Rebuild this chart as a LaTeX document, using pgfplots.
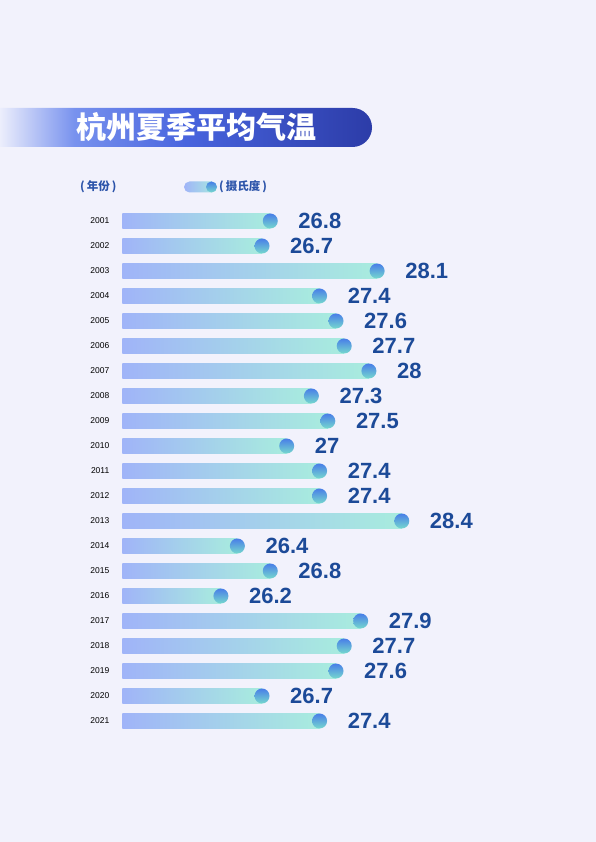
\documentclass[border=0pt]{standalone}
\usepackage{pgfplots}
\pgfplotsset{compat=1.18}
\usepackage{pgfplotstable}
\usepackage{fontspec}
\setmainfont{Liberation Sans}
\newfontfamily\cjk{Noto Sans CJK SC}

\definecolor{bg}{RGB}{242,242,252}
\definecolor{barL}{RGB}{160,180,248}
\definecolor{barR}{RGB}{168,236,222}
\definecolor{dotT}{RGB}{72,126,232}
\definecolor{dotB}{RGB}{118,216,206}
\definecolor{valc}{RGB}{28,74,152}
\definecolor{legc}{RGB}{44,84,170}
\definecolor{banA}{RGB}{236,238,252}
\definecolor{banB}{RGB}{120,146,238}
\definecolor{banC}{RGB}{72,100,222}
\definecolor{banD}{RGB}{44,60,168}

% stops sit in the middle 50bp, as tikz scales that part onto the path
\pgfdeclarehorizontalshading{banner}{100bp}{color(0bp)=(banA); color(25bp)=(banA);
  color(35bp)=(banB); color(50bp)=(banC); color(75bp)=(banD); color(100bp)=(banD)}

% Hangzhou summer mean temperature, degrees C (row 1 = 2001)
\pgfplotstableread{
row t
1 26.8
2 26.7
3 28.1
4 27.4
5 27.6
6 27.7
7 28
8 27.3
9 27.5
10 27
11 27.4
12 27.4
13 28.4
14 26.4
15 26.8
16 26.2
17 27.9
18 27.7
19 27.6
20 26.7
21 27.4
}\temps

\begin{document}
\begin{tikzpicture}
  \fill[bg] (0bp,0bp) rectangle (596bp,842bp);

  % title banner
  \shade[shading=banner] (0bp,695bp) -- (352.5bp,695bp) arc (-90:90:19.5bp) -- (0bp,734bp) -- cycle;
  \node[text=white, font=\cjk\bfseries\fontsize{30bp}{33bp}\selectfont] at (196bp,714.5bp) {杭州夏季平均气温};

  % legend
  \node[anchor=west, inner sep=0pt, text=legc, font=\cjk\bfseries\fontsize{11.5bp}{13bp}\selectfont]
    at (80bp,655bp) {(\hspace{2bp}年份\hspace{2bp})};
  \shade[left color=barL, right color=barR, rounded corners=5.5bp] (184bp,649.5bp) rectangle (217bp,660.5bp);
  \shade[top color=dotT, bottom color=dotB] (211.5bp,655bp) circle (5.5bp);
  \node[anchor=west, inner sep=0pt, text=legc, font=\cjk\bfseries\fontsize{11.5bp}{13bp}\selectfont]
    at (219bp,655bp) {(\hspace{2bp}摄氏度\hspace{2bp})};

  \begin{axis}[
      at={(122.3bp,633.5bp)}, anchor=north west,
      scale only axis,
      width=328.8bp, height=525bp,
      xmin=0, xmax=4,
      ymin=0.5, ymax=21.5,
      y dir=reverse,
      xtick=\empty,
      ytick={1,...,21},
      yticklabels={2001,2002,2003,2004,2005,2006,2007,2008,2009,2010,2011,
        2012,2013,2014,2015,2016,2017,2018,2019,2020,2021},
      axis line style={draw=none},
      major tick style={draw=none},
      /pgf/number format/assume math mode=true,
      yticklabel style={font=\fontsize{8.5bp}{10bp}\selectfont, inner sep=0pt, xshift=-12.8bp},
      clip=false,
    ]
    % bars start at 25 degrees; one plot per row so each bar gets its own gradient
    \pgfplotsinvokeforeach{1,...,21}{
      \addplot[xbar, bar width=15bp, draw=none, left color=barL, right color=barR,
        y filter/.expression={abs(y-#1)<0.1 ? y : nan}]
        table[x expr=\thisrow{t}-25, y=row]{\temps};
    }
    % end dots
    \addplot[draw=none, nodes near coords={},
      every node near coord/.style={circle, inner sep=0pt, minimum size=15bp,
        top color=dotT, bottom color=dotB, anchor=center}]
      table[x expr=\thisrow{t}-25, y=row]{\temps};
    % values
    \addplot[draw=none, point meta=\thisrow{t}, nodes near coords,
      every node near coord/.style={anchor=west, inner sep=0pt, xshift=28bp, text=valc,
        font=\bfseries\fontsize{22bp}{24bp}\selectfont}]
      table[x expr=\thisrow{t}-25, y=row]{\temps};
  \end{axis}
  \pgfresetboundingbox
  \path (0bp,0bp) rectangle (596bp,842bp);
\end{tikzpicture}
\end{document}
